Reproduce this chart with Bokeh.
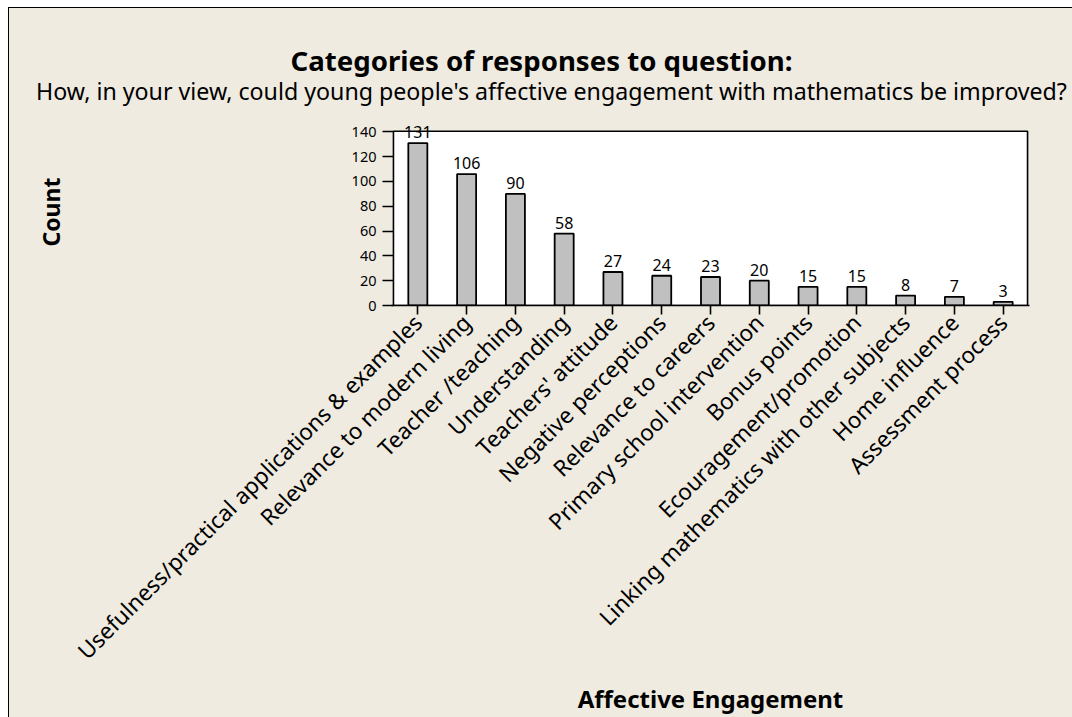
import math

from bokeh.core.properties import value
from bokeh.embed import file_html
from bokeh.layouts import column
from bokeh.models import ColumnDataSource, Div, FactorRange, LabelSet, Range1d
from bokeh.plotting import figure
from bokeh.resources import INLINE

# Response categories and their counts
categories = [
    "Usefulness/practical applications & examples",
    "Relevance to modern living",
    "Teacher /teaching",
    "Understanding",
    "Teachers' attitude",
    "Negative perceptions",
    "Relevance to careers",
    "Primary school intervention",
    "Bonus points",
    "Ecouragement/promotion",
    "Linking mathematics with other subjects",
    "Home influence",
    "Assessment process",
]
counts = [131, 106, 90, 58, 27, 24, 23, 20, 15, 15, 8, 7, 3]
y_ticks = [0, 20, 40, 60, 80, 100, 120, 140]
y_top = 140.5          # top of the white data box

title_text = "Categories of responses to question:"
subtitle_text = ("How, in your view, could young people's affective engagement "
                 "with mathematics be improved?")

FONT = "Noto Sans"
BG = "#EFEBE0"
W = 1063               # panel width in pixels
HEAD_H = 110           # heading strip height in pixels

# ---- heading strip ----
head_html = (
    f'<div style="position:relative;width:{W}px;height:{HEAD_H}px;'
    f"font-family:'{FONT}';color:black;\">"
    f'<div style="position:absolute;left:532.5px;top:39px;'
    f'transform:translateX(-50%);white-space:nowrap;line-height:1;'
    f'font-size:27.6px;font-weight:bold;">{title_text}</div>'
    f'<div style="position:absolute;left:542.5px;top:71.5px;'
    f'transform:translateX(-50%);white-space:nowrap;line-height:1;'
    f'font-size:23.2px;">{subtitle_text}</div>'
    f'</div>'
)
head = Div(text=head_html, width=W, height=HEAD_H,
           styles={"background-color": BG, "margin": "0", "padding": "0"})

# ---- bar chart ----
src = ColumnDataSource(dict(cat=categories, count=counts,
                            label=[str(c) for c in counts]))

# the frame reaches a little above the data box so that value labels
# over the tallest bar are not cut off
p = figure(
    x_range=FactorRange(*categories, range_padding=0.04,
                        range_padding_units="absolute"),
    y_range=Range1d(0, 150.8),
    width=W,
    height=709 - HEAD_H,
    output_backend="svg",
    toolbar_location=None,
    min_border_left=382,
    min_border_right=43,
    min_border_top=0,
    min_border_bottom=409,
)
p.background_fill_color = BG
p.border_fill_color = BG
p.outline_line_color = None
p.grid.visible = False

# white data box with a black border
p.quad(left=[0], right=[len(categories)], bottom=[0], top=[y_top],
       fill_color="white", line_color="black", line_width=1.6)

p.vbar(x="cat", top="count", width=0.39, source=src,
       fill_color="#C0C0C0", line_color="black", line_width=1.8)

p.add_layout(LabelSet(x="cat", y="count", text="label", source=src,
                      y_offset=5, text_align="center",
                      text_baseline="alphabetic",
                      text_font=value(FONT), text_font_size="16px",
                      text_color="black"))

# axes
for ax in (p.xaxis[0], p.yaxis[0]):
    ax.axis_line_color = "black"
    ax.axis_line_width = 1.6
    ax.major_tick_line_color = "black"
    ax.major_tick_line_width = 1.6
    ax.major_tick_out = 9
    ax.major_tick_in = 0
    ax.minor_tick_line_color = None
    ax.major_label_text_font = FONT
    ax.major_label_text_color = "black"
    ax.axis_label_text_font = FONT
    ax.axis_label_text_font_style = "bold"
    ax.axis_label_text_color = "black"

p.yaxis.ticker = y_ticks
p.yaxis.axis_line_color = None
p.yaxis.major_tick_in = 2
p.yaxis.major_label_text_font_size = "14.5px"
p.yaxis.major_label_standoff = 6
p.yaxis.axis_label = "Count"
p.yaxis.axis_label_text_font_size = "23px"
p.yaxis.axis_label_standoff = 282

p.xaxis.major_label_orientation = math.pi / 4
p.xaxis.major_label_text_font_size = "22.5px"
p.xaxis.major_label_standoff = 4
p.xaxis.axis_label = "Affective Engagement"
p.xaxis.axis_label_text_font_size = "24px"
p.xaxis.axis_label_standoff = 2

page = column(head, p, spacing=0)
page.styles = {"margin-left": "8px", "margin-top": "7px",
               "background-color": BG,
               "border-left": "1px solid black", "border-top": "1px solid black"}

open("out.html", "w").write(file_html(page, INLINE))
